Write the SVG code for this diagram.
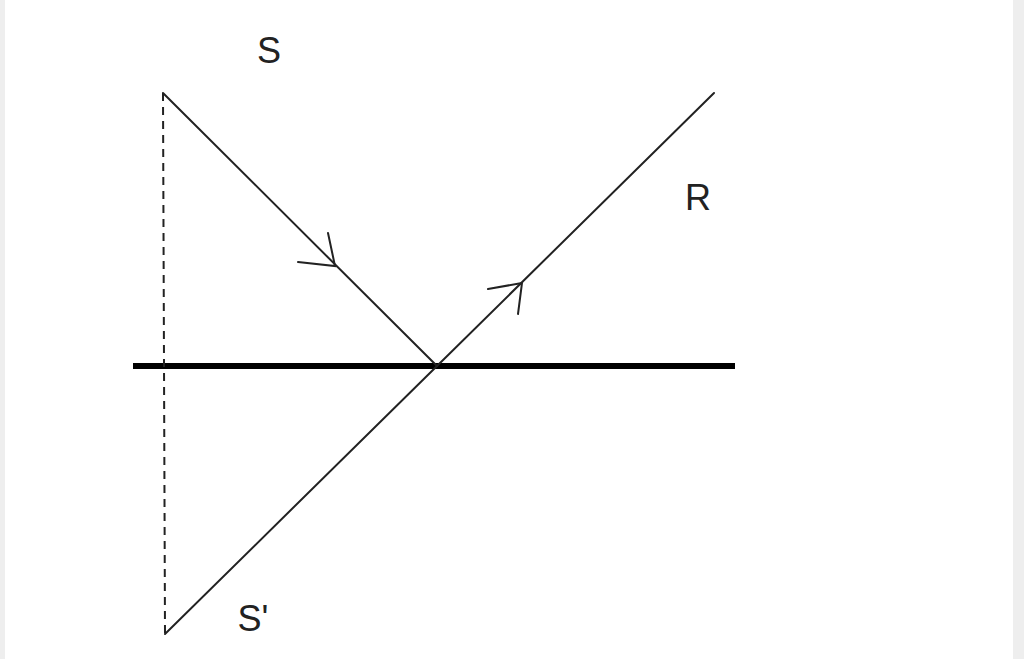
<svg xmlns="http://www.w3.org/2000/svg" width="1024" height="659" viewBox="0 0 1024 659">
<style>
.ray{stroke:#222;stroke-width:2;fill:none;stroke-linecap:round}
.lbl{font-family:"Liberation Sans",Arial,sans-serif;font-size:36px;fill:#222;text-anchor:middle}
</style>
<rect width="1024" height="659" fill="#fff"/>
<rect x="0" y="0" width="5" height="659" fill="#eee"/>
<rect x="1013" y="0" width="11" height="659" fill="#eee"/>
<g id="mirror"><line x1="133" y1="366" x2="735" y2="366" stroke="#000" stroke-width="6"/></g>
<g id="connectors">
<line x1="163" y1="93" x2="165" y2="634" stroke="#222" stroke-width="2" stroke-dasharray="8,6"/>
<line class="ray" x1="163" y1="93" x2="437" y2="366"/>
<line class="ray" x1="437" y1="366" x2="714" y2="93" stroke-width="1.6"/>
<line class="ray" x1="165" y1="634" x2="437" y2="366"/>
<polyline class="ray" points="298,262 335,266 328,233"/>
<polyline class="ray" points="488,289 522,283 518,314"/>
</g>
<g id="S"><text class="lbl" x="269" y="63">S</text></g>
<g id="R"><text class="lbl" x="698" y="210">R</text></g>
<g id="Sprime"><text class="lbl" x="253" y="631">S'</text></g>
</svg>
